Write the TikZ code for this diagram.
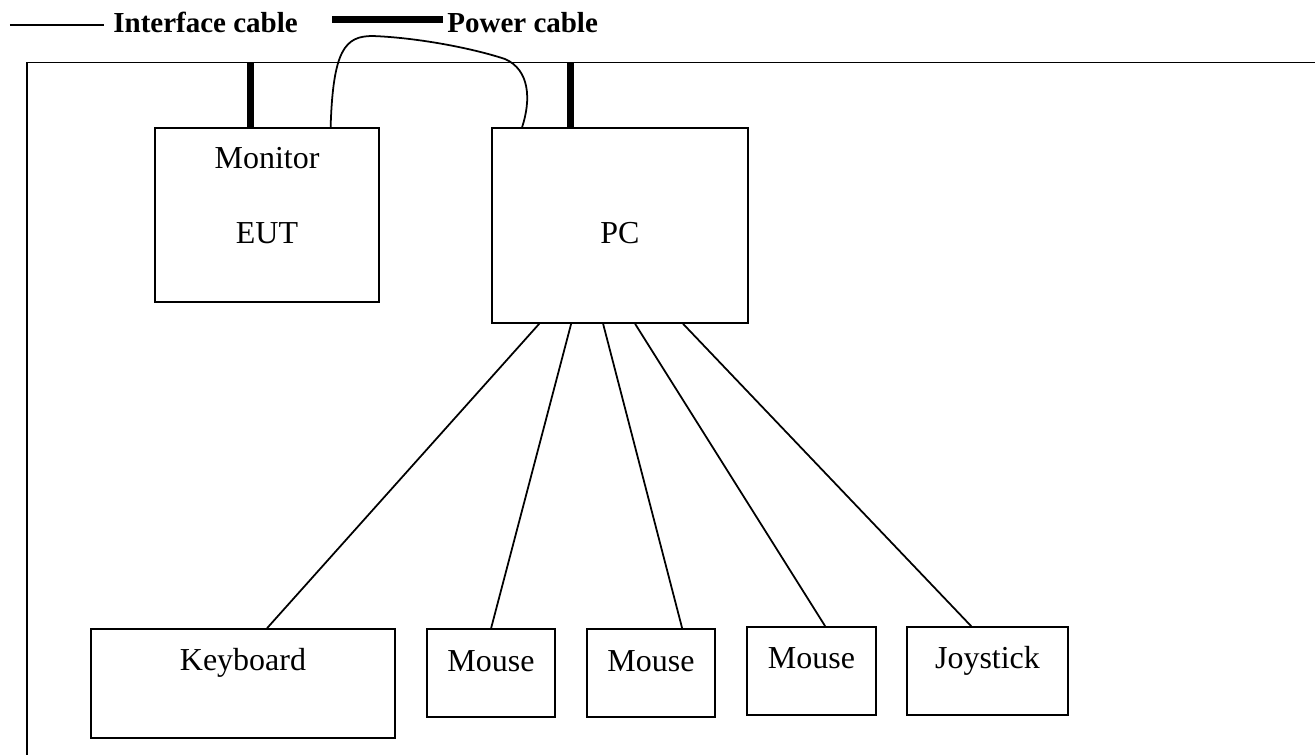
\documentclass[tikz,border=0pt]{standalone}
\usepackage{fontspec}
\setmainfont{Liberation Serif}
\usepackage{tikz}
\usetikzlibrary{positioning}

\tikzset{
    ifcable/.style={line width=1pt},
    pwcable/.style={line width=4.3pt},
    unitbox/.style={draw, line width=1pt, inner sep=0pt},
    boxtxt/.style={anchor=base, inner sep=0pt, font=\fontsize{18.2pt}{22pt}\selectfont},
    legendtxt/.style={anchor=base west, inner ysep=0pt, font=\bfseries\fontsize{16.5pt}{20pt}\selectfont}
}

\begin{document}
\begin{tikzpicture}
    \useasboundingbox (0,0) rectangle (26.3,-15.1);

    % Legend
    \coordinate (ifstart) at (0.20,-0.50);
    \coordinate (pwstart) at (6.64,-0.39);
    \node[legendtxt, inner xsep=0.18cm] (iflabel) at (2.08,-0.66) {Interface cable};
    \node[legendtxt, inner xsep=0.08cm] (pwlabel) at (8.86,-0.66) {Power cable};
    \draw[ifcable] (ifstart) -- (ifstart -| iflabel.west);
    \draw[pwcable] (pwstart) -- (pwstart -| pwlabel.west);

    % Table frame
    \coordinate (frametop) at (0.54,-1.25);
    \draw[ifcable] (0.54,-15.1) -- (frametop) -- (26.3,-1.25);

    % Units
    \node[unitbox, minimum width=4.48cm, minimum height=3.48cm] (mon) at (5.34,-4.30) {};
    \node[unitbox, minimum width=5.12cm, minimum height=3.90cm] (pc) at (12.40,-4.51) {};
    \node[unitbox, minimum width=6.08cm, minimum height=2.18cm] (kbd) at (4.86,-13.67) {};
    \node[unitbox, minimum width=2.56cm, minimum height=1.76cm] (mouseA) at (9.82,-13.46) {};
    \node[unitbox, minimum width=2.56cm, minimum height=1.76cm] (mouseB) at (13.02,-13.46) {};
    \node[unitbox, minimum width=2.58cm, minimum height=1.76cm] (mouseC) at (16.23,-13.42) {};
    \node[unitbox, minimum width=3.22cm, minimum height=1.76cm] (joy) at (19.75,-13.42) {};

    % Labels
    \node[boxtxt] (montxt) at ([yshift=-0.82cm]mon.north) {Monitor};
    \node[boxtxt] (euttxt) at ([yshift=-2.32cm]mon.north) {EUT};
    \node[boxtxt] (pctxt) at ([yshift=-2.32cm]pc.north) {PC};
    \node[boxtxt] (kbdtxt) at ([yshift=-0.84cm]kbd.north) {Keyboard};
    \node[boxtxt] (mouseAtxt) at ([yshift=-0.86cm]mouseA.north) {Mouse};
    \node[boxtxt] (mouseBtxt) at ([yshift=-0.86cm]mouseB.north) {Mouse};
    \node[boxtxt] (mouseCtxt) at ([yshift=-0.84cm]mouseC.north) {Mouse};
    \node[boxtxt] (joytxt) at ([yshift=-0.84cm]joy.north) {Joystick};

    % Power cables
    \draw[pwcable] ([xshift=1.93cm]mon.north west) -- ([xshift=1.93cm]mon.north west |- frametop);
    \draw[pwcable] ([xshift=1.59cm]pc.north west) -- ([xshift=1.59cm]pc.north west |- frametop);

    % Interface cables
    \draw[ifcable] ([xshift=3.53cm]mon.north west) .. controls (6.66,-1.0) and (6.9,-0.72) .. (7.45,-0.72)
        .. controls (8.3,-0.75) and (9.4,-0.95) .. (10.1,-1.18)
        .. controls (10.6,-1.4) and (10.62,-2.0) .. ([xshift=0.62cm]pc.north west);
    \foreach \from/\dst/\off in {0.96/kbd/3.54, 1.60/mouseA/1.30, 2.24/mouseB/1.92, 2.88/mouseC/1.58, 3.84/joy/1.30}
        \draw[ifcable] ([xshift=\from cm]pc.south west) -- ([xshift=\off cm]\dst.north west);
\end{tikzpicture}
\end{document}
